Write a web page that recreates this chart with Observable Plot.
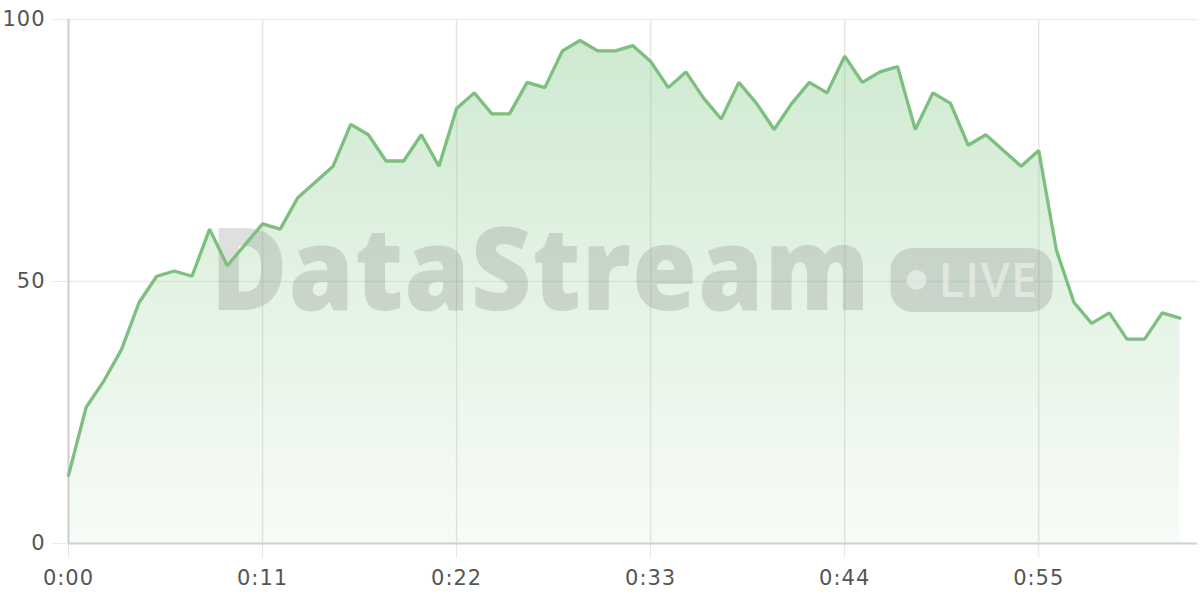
<!DOCTYPE html>
<html>
<head>
<meta charset="utf-8">
<script src="https://cdn.jsdelivr.net/npm/d3@7"></script>
<script src="https://cdn.jsdelivr.net/npm/@observablehq/plot@0.6"></script>
<style>
  html, body { margin: 0; padding: 0; background: #fff; }
  #chart { width: 1200px; height: 600px; }
  svg { overflow: visible; }
</style>
</head>
<body>
<div id="chart"></div>
<script>
// seconds since start
const seconds = d3.range(0, 64);
const values = [13, 26, 31, 37, 46, 51, 52, 51, 60, 53, 57, 61, 60, 66, 69, 72,
                80, 78, 73, 73, 78, 72, 83, 86, 82, 82, 88, 87, 94, 96, 94, 94,
                95, 92, 87, 90, 85, 81, 88, 84, 79, 84, 88, 86, 93, 88, 90, 91,
                79, 86, 84, 76, 78, 75, 72, 75, 56, 46, 42, 44, 39, 39, 44, 43];
const xTicks = [0, 11, 22, 33, 44, 55];
const yTicks = [0, 50, 100];
const watermarkTitle = "DataStream";
const watermarkBadge = "LIVE";

const data = seconds.map((t, i) => ({t, v: values[i]}));
const fmt = d => `${Math.floor(d / 60)}:${String(d % 60).padStart(2, "0")}`;

const gradientDefs = () => {
  const defs = d3.create("svg:defs");
  const g = defs.append("linearGradient").attr("id", "areaGrad")
    .attr("x1", 0).attr("y1", 0).attr("x2", 0).attr("y2", 1);
  g.append("stop").attr("offset", "0%").attr("stop-color", "#81c784").attr("stop-opacity", 0.38);
  g.append("stop").attr("offset", "100%").attr("stop-color", "#81c784").attr("stop-opacity", 0.06);
  return defs.node();
};

const watermark = (index, scales, values, dims) => {
  const cx = (dims.marginLeft + dims.width - dims.marginRight) / 2;
  const cy = (dims.marginTop + dims.height - dims.marginBottom) / 2;
  const g = d3.create("svg:g").attr("pointer-events", "none").attr("text-anchor", "start");
  g.append("text")
    .attr("x", cx - 422).attr("y", cy + 29)
    .attr("font-family", "'Open Sans', sans-serif")
    .attr("font-weight", 800)
    .attr("font-size", 116)
    .attr("textLength", 660)
    .attr("lengthAdjust", "spacingAndGlyphs")
    .attr("fill", "rgb(110,110,110)")
    .attr("fill-opacity", 0.22)
    .text(watermarkTitle);
  g.append("rect")
    .attr("x", cx + 258).attr("y", cy - 33)
    .attr("width", 162).attr("height", 64)
    .attr("rx", 22)
    .attr("fill", "rgb(110,110,110)")
    .attr("fill-opacity", 0.22);
  g.append("circle")
    .attr("cx", cx + 284).attr("cy", cy - 1).attr("r", 10)
    .attr("fill", "#fff").attr("fill-opacity", 0.45);
  g.append("text")
    .attr("x", cx + 306).attr("y", cy + 16)
    .attr("font-family", "'Open Sans', sans-serif")
    .attr("font-weight", 600)
    .attr("font-size", 47)
    .attr("fill", "#fff").attr("fill-opacity", 0.45)
    .text(watermarkBadge);
  return g.node();
};

const chart = Plot.plot({
  width: 1200,
  height: 600,
  marginLeft: 68,
  marginRight: 3,
  marginTop: 19,
  marginBottom: 57,
  style: {fontFamily: "'DejaVu Sans', sans-serif", fontSize: "21px", color: "#555", background: "transparent", letterSpacing: "1px"},
  x: {domain: [0, 64], label: null},
  y: {domain: [0, 100], label: null},
  marks: [
    gradientDefs,
    Plot.gridY(yTicks, {stroke: "#ececec", strokeOpacity: 1, strokeWidth: 1.5}),
    Plot.gridX(xTicks, {stroke: "#e6e6e6", strokeOpacity: 1, strokeWidth: 1.5}),
    Plot.axisY(yTicks, {tickSize: 16, tickPadding: 7, stroke: "#ececec", fill: "#555", fontSize: 21, label: null, tickFormat: d => d}),
    Plot.axisX(xTicks, {tickSize: 15, tickPadding: 12, stroke: "#e6e6e6", fill: "#555", fontSize: 21, label: null, tickFormat: fmt}),
    Plot.areaY(data, {x: "t", y: "v", fill: "url(#areaGrad)"}),
    Plot.ruleY([0], {stroke: "#cfcfcf", strokeWidth: 2}),
    Plot.ruleX([0], {y1: 0, y2: 100, stroke: "#cfcfcf", strokeWidth: 2}),
    watermark,
    Plot.lineY(data, {x: "t", y: "v", stroke: "#7cbf7e", strokeWidth: 3.3, strokeLinejoin: "miter"})
  ]
});
document.getElementById("chart").append(chart);
</script>
</body>
</html>
